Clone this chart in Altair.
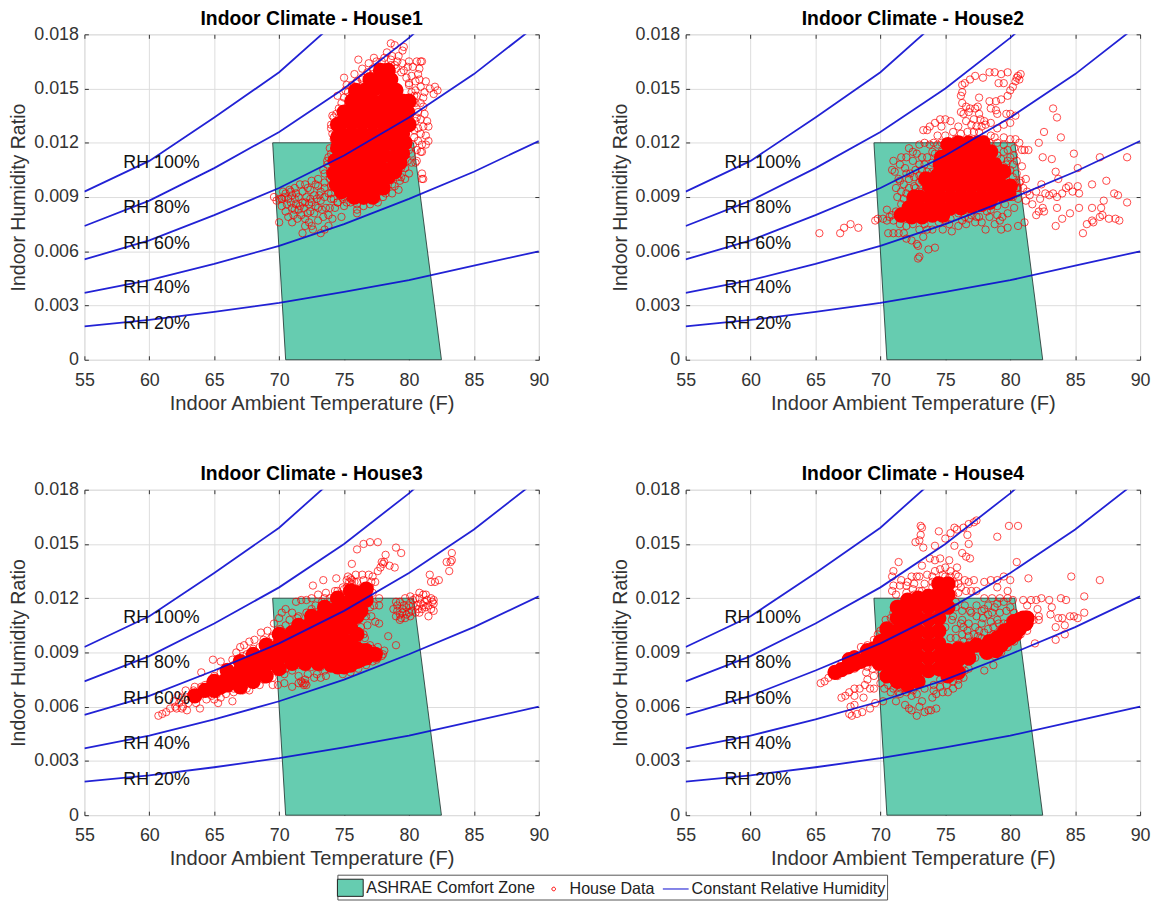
import altair as alt
import pandas as pd

TEMPS = [55, 60, 65, 70, 75, 80, 85, 90]
RH_CURVES = {
    "RH 100%": [9.3, 11.0, 13.4, 15.9, 19.1, 22.7, 26.7, 31.3],
    "RH 80%": [7.4, 8.8, 10.6, 12.6, 15.0, 17.8, 21.0, 24.8],
    "RH 60%": [5.55, 6.6, 8.0, 9.5, 11.3, 13.4, 15.8, 18.6],
    "RH 40%": [3.7, 4.4, 5.3, 6.3, 7.5, 8.9, 10.4, 12.1],
    "RH 20%": [1.85, 2.2, 2.65, 3.15, 3.75, 4.4, 5.2, 6.0],
}
RH_LABEL_T = [58, 58, 58, 58, 58]
RH_LABEL_W = [10.9, 8.4, 6.4, 3.95, 1.95]
ZONE_W = [0, 12]
ZONE_LEFT = [70.5, 69.5]
ZONE_RIGHT = [82.5, 80.35]
LEGEND_NAMES = ["ASHRAE Comfort Zone", "House Data", "Constant Relative Humidity"]
X_TICKS = [55, 60, 65, 70, 75, 80, 85, 90]
Y_TICKS = [0, 0.003, 0.006, 0.009, 0.012, 0.015, 0.018]

# (temperature F, humidity ratio x 1000): open rings
H1_RINGS = [(78.6,17.5),(78.9,17.4),(79.6,17.3),(79.5,17.1),(76.1,16.6),(77.3,16.7),(77.9,16.5),(78.3,17.0),(78.7,16.8),(79.2,16.8),(80.0,16.5),(80.6,16.5),(80.9,16.5),(81.0,16.5),(80.8,16.1),(80.7,15.8),(80.8,15.5),(81.3,15.4),(82.0,15.1),(82.2,14.9),(81.9,14.7),(81.6,15.0),(81.2,14.8),(80.6,14.6),(75.0,15.6),(75.9,15.3),(76.4,15.5),(77.2,15.8),(77.9,16.0),(78.9,16.3),(79.6,16.0),(80.2,15.7),(80.0,15.2),(80.5,14.9),(74.5,14.6),(75.1,14.9),(75.6,14.7),(81.1,14.0),(81.2,13.6),(81.4,13.2),(81.5,12.9),(81.3,12.4),(81.5,12.1),(81.3,11.9),(81.0,11.9),(80.9,11.5),(81.0,11.5),(80.6,11.0),(80.5,10.9),(81.0,10.3),(81.0,10.0),(81.1,10.0),(80.0,11.6),(80.4,12.3),(80.7,12.8),(80.2,13.1),(80.6,13.4),(80.0,14.0),(79.8,13.5),(80.3,14.2),(79.7,10.6),(79.4,10.1),(79.3,9.9),(78.9,9.6),(78.7,9.2),(78.0,9.0),(77.6,8.7),(76.5,8.8),(76.0,8.3),(76.0,8.1),(75.2,8.7),(74.9,8.9),(74.0,8.9),(73.9,8.4),(74.3,8.4),(69.6,9.0),(69.8,8.8),(70.2,8.9),(70.5,9.2),(70.9,9.3),(71.2,9.5),(71.6,9.7),(72.0,9.7),(72.5,9.9),(73.0,10.0),(73.4,10.5),(73.7,11.0),(74.0,11.4),(74.3,12.0),(74.0,12.8),(74.2,13.4),(70.2,8.5),(70.5,8.2),(70.7,7.9),(71.1,8.0),(70.0,7.6),(71.0,7.6),(71.8,7.0),(72.0,7.4),(72.3,7.6),(72.5,7.4),(73.2,7.0),(73.5,7.2),(73.8,7.4),(72.7,8.1),(72.2,8.1),(71.7,8.0),(71.9,8.4),(71.3,8.6),(70.9,8.7),(71.5,9.0),(72.1,9.0),(72.7,9.1),(73.2,8.8),(73.3,8.3),(73.6,8.4),(74.1,7.8),(74.8,7.9),(73.0,9.6),(73.5,9.5),(72.4,9.4),(71.0,9.1),(70.6,8.6),(71.5,8.3),(72.5,8.7),(73.0,8.4),(73.8,9.2),(74.3,9.5),
(74.0,13.0),(74.1,12.5),(74.2,12.2),(73.9,11.7),(73.8,11.2),(73.7,10.8),(73.5,10.3),(73.9,10.0),(74.2,10.0),(74.5,9.5),(74.6,9.2),(75.0,9.0),(75.5,8.7),(76.0,8.6),(76.5,8.5),(77.0,8.6),(77.5,8.9),(78.2,9.2),(78.7,9.7),(79.1,10.1),(79.4,10.6),(79.9,11.0),(80.2,11.4),(80.3,11.9),(80.4,12.7),(80.5,13.2),(80.7,13.7),(80.5,14.2),(80.4,14.6),(80.2,14.8),(80.0,15.3),(79.8,15.6),(79.4,15.9),(79.0,16.1),(78.6,16.3),(78.2,16.2),(77.6,16.2),(77.2,16.1),(76.8,15.9),(76.4,15.6),(76.0,15.4),(75.6,15.2),(75.3,14.8),(75.0,14.5),(74.8,14.2),(74.6,13.9),(74.4,13.6),(74.1,13.5),(70.4,9.0),(70.8,9.4),(71.3,9.2),(71.8,9.3),(72.2,9.5),(72.8,9.7),(73.2,9.3),(71.0,8.4),(70.2,8.9),(71.2,8.9),(71.8,8.7),(72.3,8.6),(72.9,8.9),(73.5,9.0),(74.0,9.2),(74.2,8.9),(74.5,8.7),
(75.2,15.2),(75.8,15.8),(76.4,16.1),(76.9,16.4),(77.5,16.5),(78.1,16.7),(78.6,16.6),(79.1,16.5),(79.5,16.4),(79.9,16.2),(80.3,16.2),(80.5,15.4),(80.9,15.1),(81.1,14.5),(80.9,14.2),(80.9,13.3),(81.1,12.9),(80.9,12.5),(80.7,12.1),(80.6,11.6),(80.2,10.9),(80.0,10.3),(79.7,10.0),(79.2,9.4),(75.5,8.9),(75.0,8.5),(74.5,8.7),(76.9,8.9),(77.3,9.0),(70.0,8.9),(70.3,9.3),(70.7,8.9),(71.2,8.3),(71.6,8.5),(72.0,8.7),(72.8,8.5),(73.1,9.1),(73.5,9.8),(74.0,9.6),(72.4,8.9),(72.0,7.8),(72.4,8.2),(71.4,7.8),(73.0,7.7),(73.4,7.9),(73.8,8.0),(72.6,7.2)]
# saturated centre of the cloud, where the rings merge into solid red
H1_CORE = [(77.0,15.5),(77.8,15.6),(78.6,15.5),(75.9,14.9),(76.6,14.9),(77.4,15.0),(78.2,14.9),(79.0,14.9),(75.6,14.3),(76.4,14.3),(77.2,14.3),(78.0,14.3),(78.8,14.3),(79.5,14.3),(75.0,13.7),(75.8,13.7),(76.6,13.7),(77.4,13.7),(78.2,13.7),(79.0,13.7),(79.7,13.7),(74.8,13.1),(75.6,13.1),(76.4,13.1),(77.2,13.1),(78.0,13.1),(78.8,13.1),(79.6,13.1),(74.8,12.5),(75.6,12.5),(76.4,12.5),(77.2,12.5),(78.0,12.5),(78.8,12.5),(79.5,12.5),(74.9,11.9),(75.7,11.9),(76.5,11.9),(77.3,11.9),(78.1,11.9),(78.9,11.9),(79.3,11.9),(74.9,11.3),(75.7,11.3),(76.5,11.3),(77.3,11.3),(78.1,11.3),(79.0,11.3),(74.6,10.7),(75.4,10.7),(76.2,10.7),(77.0,10.7),(77.8,10.7),(78.8,10.7),(74.5,10.1),(75.3,10.1),(76.1,10.1),(76.9,10.1),(77.7,10.1),(78.4,10.1),(75.0,9.5),(75.8,9.5),(76.6,9.5),(77.4,9.5),(78.0,9.5),(75.8,9.0),(76.5,9.0),(77.2,9.0),
(74.3,11.0),(74.2,10.3),(74.4,9.7),(74.8,9.3),(79.9,13.7),(80.0,13.0),(80.0,14.3),(77.8,16.0),(78.4,16.0),(79.7,12.0),(79.5,11.4),(79.3,10.9),(78.9,10.4),(74.5,13.0),(74.5,12.3),(74.5,11.7)]

H2_RINGS = [(80.8,15.8),(80.7,15.5),(80.4,15.4),(80.2,15.1),(80.6,15.7),(80.5,15.6),(79.8,15.9),(79.3,15.8),(78.8,15.9),(78.4,15.9),(77.9,15.6),(77.3,15.7),(76.9,15.5),(76.5,15.3),(76.3,15.2),(79.1,15.3),(79.5,15.3),(80.0,14.9),(79.8,14.6),(79.3,14.4),(78.9,14.3),(78.4,14.3),(77.6,14.5),(76.3,14.8),(76.2,14.6),(76.3,14.2),(76.6,14.0),(76.9,13.9),(77.3,13.9),(77.5,14.0),(77.6,13.6),(78.5,13.9),(78.9,13.8),(79.0,13.6),(79.7,13.6),(80.0,13.6),(80.4,13.5),(80.0,13.1),(79.5,13.0),(79.0,12.8),(78.5,13.1),(78.0,13.2),(76.4,13.6),(76.2,13.7),(75.4,13.2),(75.0,13.3),(74.6,13.3),(74.2,13.1),(73.8,12.9),(73.6,12.7),(73.3,12.7),(74.7,12.9),(78.8,12.3),(79.5,12.3),(80.0,12.2),(80.4,12.2),(80.7,12.0),(80.9,11.6),(81.1,11.6),(80.3,11.3),(80.5,11.0),(80.9,10.7),(80.7,9.8),(81.0,9.5),(81.3,9.3),(81.5,9.1),(81.2,8.8),(81.7,8.6),(82.0,9.3),(82.4,9.7),(82.7,9.2),(82.3,8.9),(82.5,8.4),(83.0,9.1),(83.3,9.2),(83.6,9.0),(84.0,9.2),(84.3,9.5),(84.5,9.6),(84.8,9.3),(85.2,9.6),(85.3,9.2),(86.3,9.7),(87.4,9.9),(88.0,9.2),(88.3,9.1),(89.0,8.7),(87.2,8.8),(87.0,8.4),(86.3,8.4),(85.3,8.4),(84.6,8.1),(84.0,7.8),(83.5,7.4),(85.6,7.0),(85.9,7.5),(86.3,7.7),(86.4,7.6),(86.9,7.9),(87.1,8.0),(87.6,7.8),(88.1,7.8),(88.4,7.7),(81.1,7.6),(82.0,8.0),(82.2,8.2),(82.6,8.2),(83.6,8.4),(83.3,13.9),(83.6,13.4),(83.9,12.3),(82.6,12.6),(82.2,12.0),(82.5,11.2),(83.2,11.1),(84.9,11.4),(83.5,10.4),(83.7,10.0),(85.2,10.6),(86.9,11.2),(89.0,11.2),(81.4,11.6),(65.3,7.0),(66.9,7.0),(67.2,7.3),(67.7,7.5),(68.3,7.3),(69.6,7.7),(69.8,7.8),(70.2,7.8),(70.5,7.7),(70.7,7.9),(70.9,8.0),(70.6,7.0),(71.0,7.0),(71.4,7.0),(71.8,7.0),(72.0,6.7),(72.4,6.6),(72.8,6.4),(72.9,6.3),(73.0,5.7),(72.9,5.6),(73.7,6.1),(74.2,6.2),(73.3,6.8),(73.6,7.2),(71.0,11.0),(70.9,10.5),(71.1,10.4),(71.5,10.8),(71.6,11.2),(72.0,11.2),(72.2,11.7),(72.5,11.5),(73.0,11.9),(73.4,12.0),(72.7,10.5),(72.2,10.0),(71.5,9.9),(71.2,9.5),(71.3,9.0),(71.6,8.6),(72.0,9.2),(72.7,9.5),(73.2,9.9),(73.6,10.4),(74.0,10.9),(74.2,11.4),(74.1,12.0),(74.7,12.0),(75.0,11.8),(75.4,11.7),(74.8,11.3),(74.8,7.2),(75.3,7.5),(76.0,7.4),(76.6,7.5),(77.3,7.6),(77.8,7.6),(78.1,7.2),(78.8,7.5),(79.2,7.7),(79.3,7.2),(79.8,7.3),(79.4,7.9),(79.8,8.1),(78.5,8.3),(80.6,7.4),(77.0,8.0),(76.0,8.1),(80.6,9.5),(80.5,9.2),(80.2,9.0),(79.9,9.0),
(72.0,8.5),(72.5,9.0),(72.2,9.5),(73.0,9.3),(73.5,9.5),(72.8,8.9),(71.8,9.7),(72.3,10.3),(73.0,10.2),(73.4,10.8),(73.0,10.8),(72.5,11.0),(71.9,10.6),(71.4,10.0),(73.6,11.2),(74.0,11.5),(74.4,11.9),(74.7,11.5),(75.2,11.2),(75.4,12.0),(75.8,12.2),(76.2,12.5),(76.7,12.6),(77.2,12.6),(77.6,12.6),(78.0,12.2),(78.4,12.0),(78.7,11.5),(79.0,11.3),(79.3,11.1),(79.7,10.8),(80.0,10.5),(80.2,10.1),(80.4,9.8),(80.5,9.5),(78.1,13.0),(77.7,13.3),(77.2,13.3),(76.6,13.2),(76.8,13.7),(77.8,12.9),(79.5,11.9),(79.8,11.6),(80.0,11.2),(80.3,11.7),(79.6,8.6),(79.0,8.5),(78.2,8.2),(77.4,7.9),(76.5,7.9),(75.4,7.8),(74.5,7.6),(73.4,7.5),(72.5,7.5),(71.5,7.5),(72.0,7.4),(71.0,7.7),(71.2,8.2),(75.5,7.1),(76.3,7.7),(77.6,7.9),
(71.8,8.9),(72.3,8.9),(72.6,9.6),(73.1,9.0),(73.0,9.8),(73.5,10.0),(72.6,10.1),(72.0,10.3),(73.2,10.5),(74.0,10.4),(74.4,11.0),(74.9,10.9),(73.8,11.9),(73.2,11.2),(72.8,11.4),(71.6,9.3),(72.5,8.6),(73.3,8.8),(76.0,12.9),(75.6,12.6),(75.0,12.4),(74.4,12.4),(77.0,13.0),(77.4,12.9),(78.5,12.4),(79.0,12.0),(79.5,11.5),(79.8,11.0),(80.2,10.8),(80.5,10.3),(80.8,9.9),(81.2,10.0),(73.0,7.2),(74.0,7.2),(75.0,7.7),(76.8,7.8),(78.4,7.9),(79.0,8.0),(80.3,8.4),(80.6,8.9),(70.5,8.3)]
H2_CORE = [(76.0,12.0),(76.8,12.0),(77.5,12.0),(75.5,11.4),(76.3,11.4),(77.1,11.4),(77.9,11.4),(75.0,10.8),(75.8,10.8),(76.6,10.8),(77.4,10.8),(78.2,10.8),(74.4,10.2),(75.2,10.2),(76.0,10.2),(76.8,10.2),(77.6,10.2),(78.4,10.2),(79.0,10.2),(73.8,9.6),(74.6,9.6),(75.4,9.6),(76.2,9.6),(77.0,9.6),(77.8,9.6),(78.6,9.6),(79.4,9.6),(80.0,9.6),(73.0,9.0),(73.8,9.0),(74.6,9.0),(75.4,9.0),(76.2,9.0),(77.0,9.0),(77.8,9.0),(78.6,9.0),(79.4,9.1),(79.9,9.2),(72.2,8.4),(73.0,8.4),(73.8,8.4),(74.6,8.4),(75.4,8.4),(76.2,8.4),(77.0,8.5),(77.8,8.6),(78.4,8.7),(71.6,8.0),(72.4,7.9),(73.2,7.9),(74.0,8.0),(74.8,8.0),
(77.9,12.0),(78.5,11.5),(78.8,10.8),(79.5,10.4),(74.6,10.8),(73.5,10.0),(72.6,9.0),(74.7,11.2),(75.2,11.9)]

H3_RINGS = [(60.7,5.5),(61.0,5.6),(61.3,5.7),(61.6,5.9),(62.0,6.0),(62.3,6.2),(62.1,5.9),(62.6,6.0),(62.9,5.8),(62.8,6.4),(63.2,6.6),(63.4,6.9),(63.6,6.5),(64.0,6.7),(64.0,7.1),(64.3,7.2),(63.9,5.9),(63.6,6.2),(64.4,6.4),(64.8,6.6),(65.2,6.7),(65.3,6.2),(66.4,6.3),(64.7,7.4),(65.0,7.7),(65.5,7.9),(64.9,8.6),(65.5,8.5),(64.0,7.9),(66.0,8.2),(66.4,8.6),(66.7,9.0),(67.0,9.3),(67.3,9.4),(67.7,9.6),(68.1,9.7),(68.6,10.1),(69.1,10.2),(69.6,10.6),(67.2,6.9),(67.5,7.0),(67.7,6.9),(68.2,7.3),(68.8,7.5),(69.5,7.2),(69.9,7.2),(70.4,7.3),(71.0,7.1),(71.8,7.3),(72.0,7.5),(72.2,7.8),(72.9,7.8),(73.6,7.7),(70.4,7.8),(71.0,8.0),(71.5,8.3),(72.2,8.4),(72.7,8.5),(70.0,10.9),(70.2,11.2),(70.5,11.4),(71.0,11.2),(71.3,11.8),(71.7,11.9),(72.1,11.9),(72.5,12.0),(72.6,12.7),(73.4,13.0),(74.4,13.1),(73.0,12.2),(73.6,12.3),(74.3,12.4),(74.9,12.6),(75.4,12.9),(75.5,13.1),(75.9,13.3),(76.4,13.3),(76.9,13.3),(77.2,13.2),(77.6,13.5),(77.8,13.7),(78.0,13.9),(78.1,14.0),(78.2,14.4),(77.9,14.0),(78.5,13.8),(78.9,13.7),(79.0,14.8),(79.4,14.5),(76.0,14.7),(76.5,15.0),(77.0,15.1),(77.6,15.1),(75.6,13.9),(77.4,12.9),(77.0,12.6),(76.7,12.3),(75.2,13.0),(75.3,13.2),(76.3,11.6),(76.9,11.8),(77.3,11.6),(77.7,11.6),(77.7,12.0),(77.1,11.0),(77.4,10.7),(77.7,10.6),(76.3,10.4),(76.5,10.0),(76.0,9.6),(76.4,9.3),(77.0,9.4),(77.6,9.3),(78.1,9.1),(77.9,8.8),(77.6,8.7),(77.2,8.5),(76.7,8.3),(76.1,8.1),(75.5,7.9),(74.9,7.8),(78.4,9.9),(79.0,9.4),(78.8,11.4),(79.0,11.0),(79.3,10.8),(79.7,10.9),(80.1,11.0),(79.5,11.4),(79.3,11.8),(79.7,12.0),(80.1,12.1),(80.5,12.0),(80.8,12.3),(81.1,12.2),(81.4,11.9),(81.7,12.0),(81.9,11.7),(81.7,11.4),(81.5,11.0),(81.0,11.4),(80.5,11.2),(80.9,11.7),(79.8,11.5),(80.3,11.6),(81.3,11.5),(81.6,13.3),(81.7,12.9),(82.0,12.9),(82.3,13.0),(82.9,14.0),(83.1,13.5),(83.2,14.0),(83.3,14.1),(83.3,14.5),(75.6,12.8),(74.5,12.1),
(70.5,10.5),(71.5,11.0),(72.5,11.4),(73.5,12.0),(74.5,12.4),(75.0,12.5),(75.6,13.0),(76.0,12.9),(62.5,6.5),(63.0,6.2),(63.5,7.1),(64.5,6.8),(65.5,6.5),(66.5,6.8),(67.3,7.1),(68.2,7.6),(69.0,7.7),(70.0,8.0),(70.7,8.6),(71.5,8.4),(72.5,8.2),(73.2,8.2),(73.5,8.0),(67.5,8.9),(68.5,9.3),(69.5,9.9),(66.2,7.9),(65.5,7.5),(64.7,7.3),(63.5,6.6),(62.2,6.6),(62.5,5.9),(61.9,6.3),(62.8,6.9),(72.0,7.3),(71.9,7.2),(71.7,7.4),(72.1,7.2),(79.3,11.1),(79.6,11.6),(80.0,11.6),(80.6,11.6),(81.2,11.8),(81.5,11.6),(80.8,12.0),(80.3,11.9),(79.5,11.2),(80.0,11.2),(79.1,11.3),(81.9,11.3),
(66.5,8.3),(67.2,8.8),(68.0,9.2),(68.8,9.7),(69.4,9.8),(70.1,10.3),(70.8,10.8),(71.4,10.9),(72.1,11.2),(72.8,11.6),(73.3,11.8),(73.9,12.0),(74.2,12.0),(74.7,12.2),(75.2,12.6),(75.8,12.9),(76.5,13.0),(77.1,12.9),(76.9,12.1),(77.2,12.3),(77.0,11.5),(76.7,11.0),(76.8,10.5),(76.6,9.8),(77.2,9.2),(77.7,9.0),(78.0,8.9),(77.5,8.6),(70.5,8.1),(71.0,8.4),(71.5,7.7),(72.7,7.6),(73.2,7.6),(71.5,7.3),(69.5,7.6),(68.5,7.2),(67.5,7.4),(66.5,7.0),(65.9,6.7),(65.0,6.4),(79.0,11.8),(79.1,11.6),(79.4,10.9),(79.8,11.1),(80.2,11.3),(80.7,11.4),(81.1,11.6),(81.3,12.2),(80.8,11.2),(81.8,11.8),(81.9,11.9)]
H3_CORE = [(65.0,6.9),(66.0,7.2),(66.0,7.6),(67.0,7.6),(67.0,8.0),(68.0,7.9),(68.0,8.5),(69.0,8.3),(69.0,8.9),(70.0,8.7),(70.0,9.4),(71.0,9.0),(71.0,9.7),(71.0,10.1),(72.0,9.0),(72.0,9.7),(72.0,10.4),(73.0,9.0),(73.0,9.7),(73.0,10.4),(73.0,10.9),(74.0,8.3),(74.0,9.0),(74.0,9.7),(74.0,10.4),(74.0,11.2),(75.0,8.2),(75.0,8.9),(75.0,9.6),(75.0,10.3),(75.0,11.0),(75.0,11.7),(76.0,8.5),(76.0,9.2),(76.0,10.0),(76.0,11.0),(76.0,11.7),(76.0,12.3),(76.7,8.7),(76.7,9.1),(76.7,11.9),(76.7,12.5),(77.4,8.9),
(65.5,7.1),(66.5,7.5),(67.5,7.9),(67.5,8.2),(68.5,8.2),(68.5,8.6),(69.5,8.5),(69.5,9.1),(70.5,8.9),(70.5,9.5),(71.5,9.0),(71.5,9.4),(71.5,10.0),(72.5,9.0),(72.5,9.4),(72.5,10.1),(72.5,10.7),(73.5,8.7),(73.5,9.4),(73.5,10.1),(73.5,10.8),(73.5,11.2),(74.5,8.2),(74.5,8.7),(74.5,9.4),(74.5,10.0),(74.5,10.8),(74.5,11.5),(75.5,8.3),(75.5,8.9),(75.5,9.6),(75.5,10.4),(75.5,11.2),(75.5,11.9),(76.3,8.6),(76.3,9.0),(76.3,11.3),(76.3,12.2),
(70.0,8.1),(71.0,8.4),(69.0,7.7),(68.0,7.4),(67.0,7.1),(72.0,8.4),(73.0,8.4),(71.5,10.5),(72.5,11.0),(73.5,11.5),(74.5,12.0),(75.5,12.4),(70.0,10.0),(69.0,9.4),(68.0,8.9),(67.0,8.5),(66.0,8.0),(65.0,7.4),(64.3,6.9),(63.5,6.6)]

H4_RINGS = [(65.4,7.3),(65.7,7.4),(66.0,7.6),(66.3,7.9),(66.7,7.7),(67.0,8.2),(67.4,8.7),(68.0,8.9),(68.5,9.3),(69.0,9.4),(69.5,9.7),(70.0,10.2),(70.4,10.8),(67.0,6.5),(67.3,6.6),(67.6,6.8),(68.0,7.0),(68.4,7.0),(68.8,7.2),(68.7,6.5),(68.0,6.1),(67.7,6.0),(67.6,5.6),(67.8,5.5),(68.2,5.6),(68.6,5.7),(69.2,5.9),(69.6,6.2),(70.2,6.3),(71.2,6.3),(71.9,6.1),(72.2,5.9),(72.4,5.8),(72.8,5.5),(73.0,6.0),(73.2,6.3),(73.4,5.7),(73.7,5.8),(73.9,5.8),(74.3,5.9),(74.0,6.5),(74.3,6.7),(74.8,6.8),(75.2,6.8),(75.1,7.2),(72.8,6.7),(72.0,6.8),(71.6,7.0),(73.1,16.0),(73.2,15.9),(73.1,15.5),(73.0,15.2),(72.7,15.1),(73.3,14.8),(74.5,15.7),(74.2,14.9),(75.0,15.3),(75.4,15.6),(75.7,15.9),(75.9,15.8),(76.4,15.9),(76.8,16.1),(77.2,16.2),(77.4,16.3),(76.7,15.5),(76.8,15.0),(75.7,14.9),(76.3,14.5),(76.6,14.3),(76.9,14.2),(75.3,14.1),(74.6,14.2),(74.2,14.1),(73.8,14.2),(71.4,14.0),(71.0,13.5),(70.9,13.2),(72.4,13.2),(72.8,13.2),(73.2,13.8),(73.0,13.2),(73.6,13.3),(74.0,13.2),(71.5,12.7),(72.0,12.7),(72.5,12.5),(73.0,12.4),(71.2,12.2),(75.9,13.7),(76.0,13.2),(76.5,13.0),(76.8,12.9),(77.2,13.0),(76.2,12.6),(76.6,12.4),(77.0,12.4),(77.4,12.4),(76.0,12.3),(79.0,15.4),(79.9,16.0),(80.6,16.0),(80.5,14.0),(81.4,13.1),(78.0,12.9),(78.5,13.0),(79.0,13.0),(79.5,13.2),(80.0,13.0),(79.0,12.6),(79.8,12.4),(78.0,12.0),(78.6,12.0),(79.2,12.0),(79.8,12.0),(80.2,11.9),(81.0,11.9),(81.6,11.9),(82.0,11.9),(82.4,12.0),(83.0,11.9),(83.2,11.5),(83.1,11.1),(83.9,12.0),(84.3,11.9),(84.7,13.2),(85.7,12.1),(86.9,13.0),(85.7,11.2),(85.2,10.9),(84.9,11.0),(84.6,11.0),(84.2,10.5),(83.5,10.4),(84.0,10.9),(83.7,10.9),(84.2,10.0),(83.5,9.7),(81.9,9.5),(81.8,10.8),(82.2,11.0),(82.1,11.4),(81.3,11.6),(82.2,10.8),(78.0,8.0),(78.7,8.3),(75.8,11.8),(76.5,11.6),(77.0,11.2),(77.4,11.6),(77.8,11.3),(78.3,11.1),(78.8,11.5),(79.2,11.2),(79.7,11.3),(80.0,11.5),(76.3,10.8),(76.8,10.6),(77.3,10.4),(77.8,10.6),(78.3,10.3),(75.8,10.3),(76.3,10.0),(76.8,9.9),(77.2,10.0),(77.8,9.8),(78.2,9.7),(79.0,10.8),(79.5,10.6),(78.5,10.7),(80.3,11.2),(75.5,10.8),(75.0,10.4),(75.4,9.8),
(70.0,8.0),(69.5,7.7),(69.0,7.5),(69.5,7.0),(70.0,7.3),(70.3,7.0),(70.8,6.8),(71.5,6.7),(72.5,6.9),(73.4,7.0),(74.1,7.2),(74.6,7.5),(75.6,7.4),(76.0,7.5),(76.5,8.0),(76.8,8.1),(77.3,8.7),(77.9,9.0),(78.0,9.5),(78.4,8.9),(78.8,8.8),(79.3,9.0),(79.8,9.3),(80.3,9.6),(80.8,10.0),(81.3,10.2),(81.5,10.6),(81.5,11.0),(81.2,11.1),(80.6,11.0),(80.2,10.9),(79.8,10.6),(79.3,10.3),(78.7,10.0),(78.2,9.6),(75.6,11.0),(75.8,11.5),(75.6,12.2),(75.7,12.8),(75.4,13.2),(75.0,13.2),(74.8,13.3),(74.4,13.0),(74.0,12.6),(73.6,12.3),(73.2,12.4),(72.6,12.2),(72.0,12.3),(71.4,11.7),(71.0,11.2),(70.8,10.9),(76.2,9.4),(75.8,9.8),(76.4,10.4),(77.6,10.2),(68.8,9.0),(69.8,10.0),(70.2,9.6),(68.0,8.1),(69.0,8.2),(67.0,8.4),
(71.0,12.7),(70.9,12.4),(71.6,13.0),(72.1,12.9),(72.6,12.8),(73.4,12.8),(74.0,12.9),(74.2,13.5),(74.6,13.6),(75.0,13.7),(75.4,13.5),(75.8,13.3),(76.0,12.8),(76.3,11.3),(76.9,11.3),(77.4,11.0),(78.0,11.4),(78.6,11.2),(79.0,11.7),(79.5,11.8),(80.0,10.8),(76.2,10.6),(76.7,10.2),(77.5,9.9),(78.0,10.1),(76.4,9.6),(76.9,9.6),(78.7,10.4),(79.1,10.6),(77.9,10.9),(78.3,11.6),(68.9,7.9),(69.4,8.1),(70.0,8.6),(69.2,7.0),(68.0,6.6),(71.0,7.0),(71.4,6.8),(72.4,6.6),(74.1,6.9),(74.6,7.1),(75.6,7.0),(76.0,7.2),(76.4,7.6),(70.6,7.2),(70.9,7.6)]
H4_CORE = [(66.5,7.9),(67.5,8.2),(68.5,8.5),(69.5,8.8),(69.5,9.2),(70.5,7.7),(70.5,8.4),(70.5,9.1),(70.5,9.8),(70.5,10.3),(71.3,7.4),(71.3,8.1),(71.3,8.8),(71.3,9.5),(71.3,10.2),(71.3,10.9),(71.3,11.5),(72.1,7.2),(72.1,7.9),(72.1,8.6),(72.1,9.3),(72.1,10.0),(72.1,10.7),(72.1,11.4),(72.1,11.9),(72.9,7.4),(72.9,8.1),(72.9,8.8),(72.9,9.5),(72.9,10.2),(72.9,10.9),(72.9,11.6),(72.9,12.0),(73.7,8.0),(73.7,8.7),(73.7,9.4),(73.7,10.1),(73.7,10.8),(73.7,11.5),(73.7,12.1),(74.5,8.1),(74.5,8.8),(74.5,9.5),(74.5,10.2),(74.5,10.9),(74.5,11.6),(74.5,12.3),(74.5,12.8),(75.2,7.7),(75.2,8.4),(75.2,9.1),(75.2,11.5),(75.2,12.2),(75.2,12.8),(76.0,7.9),(76.0,8.6),(76.0,9.2),(76.8,8.7),(76.8,9.2),(77.4,9.4),(78.6,9.2),(79.3,9.4),(79.3,9.9),(80.0,9.8),(80.0,10.3),(80.7,10.3),(80.7,10.8),(81.2,10.6),
(78.2,9.0),(78.9,9.1),(79.7,9.7),(80.4,10.0),(81.0,10.9),(81.3,10.9),(79.0,9.8),(79.6,10.2),(80.3,10.7),(78.4,9.6),(67.0,8.05),(68.0,8.35),(69.0,8.65),(70.0,9.0),(69.9,8.4),(70.0,9.6),(69.0,9.1),(68.0,8.7),(67.6,8.6)]

TEAL = "#66ccb0"
RED = "#ff0000"
BLUE = "#0a0ad0"
INK = "#333333"
FONT = "Liberation Sans"
PW, PH = 458, 328

xs = alt.Scale(domain=[55, 90], nice=False, zero=False)
ys = alt.Scale(domain=[0, 0.018], nice=False, zero=False)


def frame(pairs):
    df = pd.DataFrame(pairs, columns=["t", "k"])
    df["w"] = df["k"] / 1000
    return df[["t", "w"]]


zone_df = pd.DataFrame({"w": [v / 1000 for v in ZONE_W], "l": ZONE_LEFT, "r": ZONE_RIGHT})
curve_df = pd.DataFrame(
    [{"rh": k, "t": t, "w": v / 1000} for k, vals in RH_CURVES.items() for t, v in zip(TEMPS, vals)]
)
label_df = pd.DataFrame(
    {"rh": list(RH_CURVES), "t": RH_LABEL_T, "w": [v / 1000 for v in RH_LABEL_W]}
)
legend_df = pd.DataFrame({"series": LEGEND_NAMES, "t": [60, 60, 60], "w": [0.01, 0.01, 0.01]})
frame_df = pd.DataFrame({"t": [55], "w": [0.0]})

x_axis = alt.Axis(
    title="Indoor Ambient Temperature (F)", values=X_TICKS, format="d", offset=-4, tickSize=4,
    labelPadding=12, titlePadding=4, domain=False, tickColor=INK, labelColor=INK, titleColor=INK,
    labelFontSize=18, titleFontSize=20.3, titleFontWeight="normal", labelFont=FONT, titleFont=FONT,
    grid=True, gridColor="#dddddd", labelFlush=False,
)
y_axis = alt.Axis(
    title="Indoor Humidity Ratio", values=Y_TICKS,
    labelExpr="datum.value === 0 ? '0' : format(datum.value, '.3f')",
    offset=-4, tickSize=4, labelPadding=6, titlePadding=5, domain=False, tickColor=INK,
    labelColor=INK, titleColor=INK, labelFontSize=18, titleFontSize=19.7,
    titleFontWeight="normal", labelFont=FONT, titleFont=FONT, grid=True, gridColor="#dddddd",
)
x_top = alt.Axis(orient="top", title=None, values=X_TICKS, labels=False, offset=-4, tickSize=4,
                 domain=False, tickColor=INK, grid=False)
y_right = alt.Axis(orient="right", title=None, values=Y_TICKS, labels=False, offset=-4, tickSize=4,
                   domain=False, tickColor=INK, grid=False)


def X(field="t"):
    return alt.X(f"{field}:Q", scale=xs, axis=None)


def Y(field="w"):
    return alt.Y(f"{field}:Q", scale=ys, axis=None)


def panel(title, rings, core, with_legend=False):
    layers = [
        alt.Chart(frame_df).mark_point(opacity=0).encode(
            x=alt.X("t:Q", scale=xs, axis=x_axis), y=alt.Y("w:Q", scale=ys, axis=y_axis)
        ),
        alt.Chart(frame_df).mark_point(opacity=0).encode(
            x=alt.X("t:Q", scale=xs, axis=x_top), y=alt.Y("w:Q", scale=ys, axis=y_right)
        ),
        alt.Chart(zone_df).mark_area(orient="horizontal", color=TEAL, stroke="#1c2b28", strokeWidth=0.8).encode(
            y=Y(), x=X("l"), x2="r:Q"
        ),
        alt.Chart(frame(core)).mark_point(filled=True, color=RED, size=235, opacity=1, clip=True).encode(
            x=X(), y=Y()
        ),
        alt.Chart(frame(rings)).mark_point(filled=False, stroke=RED, size=55, strokeWidth=0.9, opacity=0.8, clip=True).encode(
            x=X(), y=Y()
        ),
        alt.Chart(curve_df).mark_line(color=BLUE, strokeWidth=1.8, clip=True, opacity=0.9).encode(
            x=X(), y=Y(), detail="rh:N"
        ),
        alt.Chart(label_df).mark_text(align="left", baseline="middle", fontSize=18, font=FONT, color="#111111").encode(
            x=X(), y=Y(), text="rh:N"
        ),
    ]
    if with_legend:
        opts = dict(
            title=None, orient="none", legendX=255, legendY=847, direction="horizontal", columns=3,
            symbolSize=529, symbolStrokeWidth=1, symbolOpacity=1, labelFontSize=16.2, labelFont=FONT,
            labelColor="#222222", labelOffset=4, columnPadding=6, padding=1,
            strokeColor="#555555", fillColor="white", labelLimit=300,
        )
        layers.append(
            alt.Chart(legend_df).mark_point(opacity=0).encode(
                x=X(), y=Y(),
                shape=alt.Shape("series:N", scale=alt.Scale(
                    domain=LEGEND_NAMES,
                    range=["M-1.13,-0.75H1.13V0.75H-1.13Z",
                           "M-0.16,0A0.16,0.16 0 1,1 0.16,0A0.16,0.16 0 1,1 -0.16,0Z",
                           "M-1.13,0H1.13"]), legend=alt.Legend(**opts)),
                fill=alt.Fill("series:N", scale=alt.Scale(domain=LEGEND_NAMES, range=[TEAL, "transparent", "transparent"]), legend=alt.Legend(**opts)),
                stroke=alt.Stroke("series:N", scale=alt.Scale(domain=LEGEND_NAMES, range=["#222222", RED, BLUE]), legend=alt.Legend(**opts)),
            )
        )
    return (
        alt.layer(*layers)
        .resolve_axis(x="independent", y="independent")
        .properties(
            width=PW, height=PH,
            title=alt.TitleParams(title, fontSize=19.5, font=FONT, fontWeight="bold", color="black", offset=-4),
        )
    )


top = alt.hconcat(panel("Indoor Climate - House1", H1_RINGS, H1_CORE),
                  panel("Indoor Climate - House2", H2_RINGS, H2_CORE), spacing=60)
bottom = alt.hconcat(panel("Indoor Climate - House3", H3_RINGS, H3_CORE, with_legend=True),
                     panel("Indoor Climate - House4", H4_RINGS, H4_CORE), spacing=60)
chart = (
    alt.vconcat(top, bottom, spacing=50)
    .properties(padding={"left": 0, "right": 0, "top": -3, "bottom": 0})
    .configure_view(stroke=INK, strokeWidth=1)
    .configure(background="white")
)
chart.save("out.html", embed_options={"renderer": "svg", "actions": False})
